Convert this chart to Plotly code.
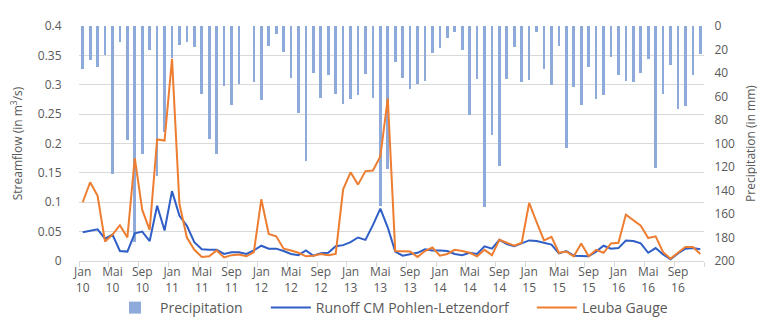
import plotly.graph_objects as go

months = ["Jan", "Feb", "Mar", "Apr", "Mai", "Jun", "Jul", "Aug", "Sep", "Okt", "Nov", "Dez"]
years = ["10", "11", "12", "13", "14", "15", "16"]
categories = [f"{m} {y}" for y in years for m in months]

precipitation = [
    37, 29, 35, 25, 126, 14, 97, 184, 109, 20, 128, 90,
    27, 16, 14, 18, 58, 96, 109, 51, 67, 49, 0, 48,
    63, 17, 7, 22, 44, 74, 115, 40, 61, 42, 58, 66,
    62, 59, 41, 61, 153, 122, 31, 44, 54, 49, 47, 23,
    19, 10, 5, 20, 76, 45, 154, 93, 119, 45, 18, 48,
    46, 5, 37, 50, 17, 104, 52, 67, 35, 62, 59, 26,
    42, 47, 48, 40, 28, 121, 58, 33, 71, 68, 42, 24,
]

runoff_cm = [
    0.049, 0.051, 0.054, 0.038, 0.045, 0.017, 0.016, 0.047, 0.050, 0.034, 0.094, 0.052,
    0.119, 0.077, 0.060, 0.032, 0.020, 0.019, 0.019, 0.012, 0.015, 0.015, 0.012, 0.018,
    0.026, 0.021, 0.021, 0.017, 0.012, 0.010, 0.018, 0.009, 0.013, 0.014, 0.025, 0.027,
    0.032, 0.040, 0.036, 0.061, 0.089, 0.057, 0.016, 0.009, 0.012, 0.014, 0.020, 0.018,
    0.018, 0.017, 0.012, 0.010, 0.014, 0.012, 0.025, 0.021, 0.036, 0.029, 0.025, 0.030,
    0.035, 0.034, 0.031, 0.028, 0.013, 0.017, 0.009, 0.009, 0.008, 0.016, 0.026, 0.021,
    0.022, 0.035, 0.034, 0.030, 0.014, 0.022, 0.011, 0.003, 0.013, 0.021, 0.022, 0.020,
]

leuba_gauge = [
    0.100, 0.134, 0.111, 0.033, 0.045, 0.061, 0.040, 0.175, 0.087, 0.053, 0.207, 0.205,
    0.344, 0.097, 0.040, 0.019, 0.007, 0.008, 0.018, 0.006, 0.010, 0.011, 0.008, 0.015,
    0.105, 0.046, 0.042, 0.021, 0.018, 0.014, 0.008, 0.009, 0.012, 0.010, 0.012, 0.122,
    0.151, 0.130, 0.153, 0.154, 0.178, 0.277, 0.017, 0.016, 0.016, 0.007, 0.017, 0.023,
    0.009, 0.012, 0.019, 0.017, 0.014, 0.008, 0.019, 0.010, 0.036, 0.031, 0.026, 0.031,
    0.099, 0.066, 0.035, 0.041, 0.014, 0.016, 0.008, 0.030, 0.008, 0.019, 0.014, 0.030,
    0.031, 0.079, 0.070, 0.060, 0.039, 0.042, 0.015, 0.004, 0.014, 0.024, 0.024, 0.012,
]

left_ticks = [0, 0.05, 0.1, 0.15, 0.2, 0.25, 0.3, 0.35, 0.4]
left_ticktext = ["0", "0.05", "0.1", "0.15", "0.2", "0.25", "0.3", "0.35", "0.4"]
right_ticks = [0, 20, 40, 60, 80, 100, 120, 140, 160, 180, 200]

x = list(range(len(categories)))
label_idx = [i for i in x if categories[i].split()[0] in ("Jan", "Mai", "Sep")]
label_text = [categories[i].replace(" ", "<br>") for i in label_idx]

FONT = "Open Sans"
GREY = "#595959"
GRID = "#d9d9d9"
PAD = "\u00a0" * 5

fig = go.Figure()

fig.add_trace(go.Bar(
    x=x, y=precipitation, name="Precipitation" + PAD,
    marker=dict(color="#8eaadb", line=dict(width=0)),
    width=0.36, yaxis="y",
))
fig.add_trace(go.Scatter(
    x=x, y=runoff_cm, name="Runoff CM Pohlen-Letzendorf" + PAD, mode="lines",
    line=dict(color="#2f5fc6", width=2), yaxis="y2",
))
fig.add_trace(go.Scatter(
    x=x, y=leuba_gauge, name="Leuba Gauge", mode="lines",
    line=dict(color="#ed7d31", width=2), yaxis="y2",
))

fig.update_layout(
    width=765, height=329,
    margin=dict(l=70, r=69, t=9, b=76),
    paper_bgcolor="white", plot_bgcolor="white",
    font=dict(family=FONT, size=12, color=GREY),
    showlegend=True,
    bargap=0,
    legend=dict(
        orientation="h", x=0.5, xanchor="center", y=-0.2, yanchor="middle",
        font=dict(size=14, color=GREY), itemwidth=40,
    ),
    xaxis=dict(
        range=[-0.5, len(categories) - 0.5],
        tickmode="array", tickvals=label_idx, ticktext=label_text,
        ticks="", showgrid=False, zeroline=False,
        showline=True, linecolor=GRID, linewidth=1,
        tickfont=dict(size=12, color=GREY),
        minor=dict(tickmode="linear", tick0=-0.5, dtick=4, ticks="outside",
                   ticklen=5, tickcolor=GRID, showgrid=False),
    ),
    yaxis=dict(
        title=dict(text="Precipitation (in mm)", font=dict(size=12, color=GREY), standoff=12),
        side="right", range=[200, 0], tickvals=right_ticks,
        showgrid=False, zeroline=False, showline=False,
        ticks="outside", ticklen=7, tickcolor="rgba(0,0,0,0)",
        tickfont=dict(size=12, color=GREY),
    ),
    yaxis2=dict(
        title=dict(text="Streamflow (in m<sup>3</sup>/s)", font=dict(size=12, color=GREY), standoff=12),
        side="left", overlaying="y", range=[0, 0.4],
        tickvals=left_ticks, ticktext=left_ticktext,
        showgrid=True, gridcolor=GRID, gridwidth=1, zeroline=False, showline=False,
        ticks="outside", ticklen=14, tickcolor="rgba(0,0,0,0)",
        tickfont=dict(size=12, color=GREY),
    ),
)

fig.write_html("out.html")
